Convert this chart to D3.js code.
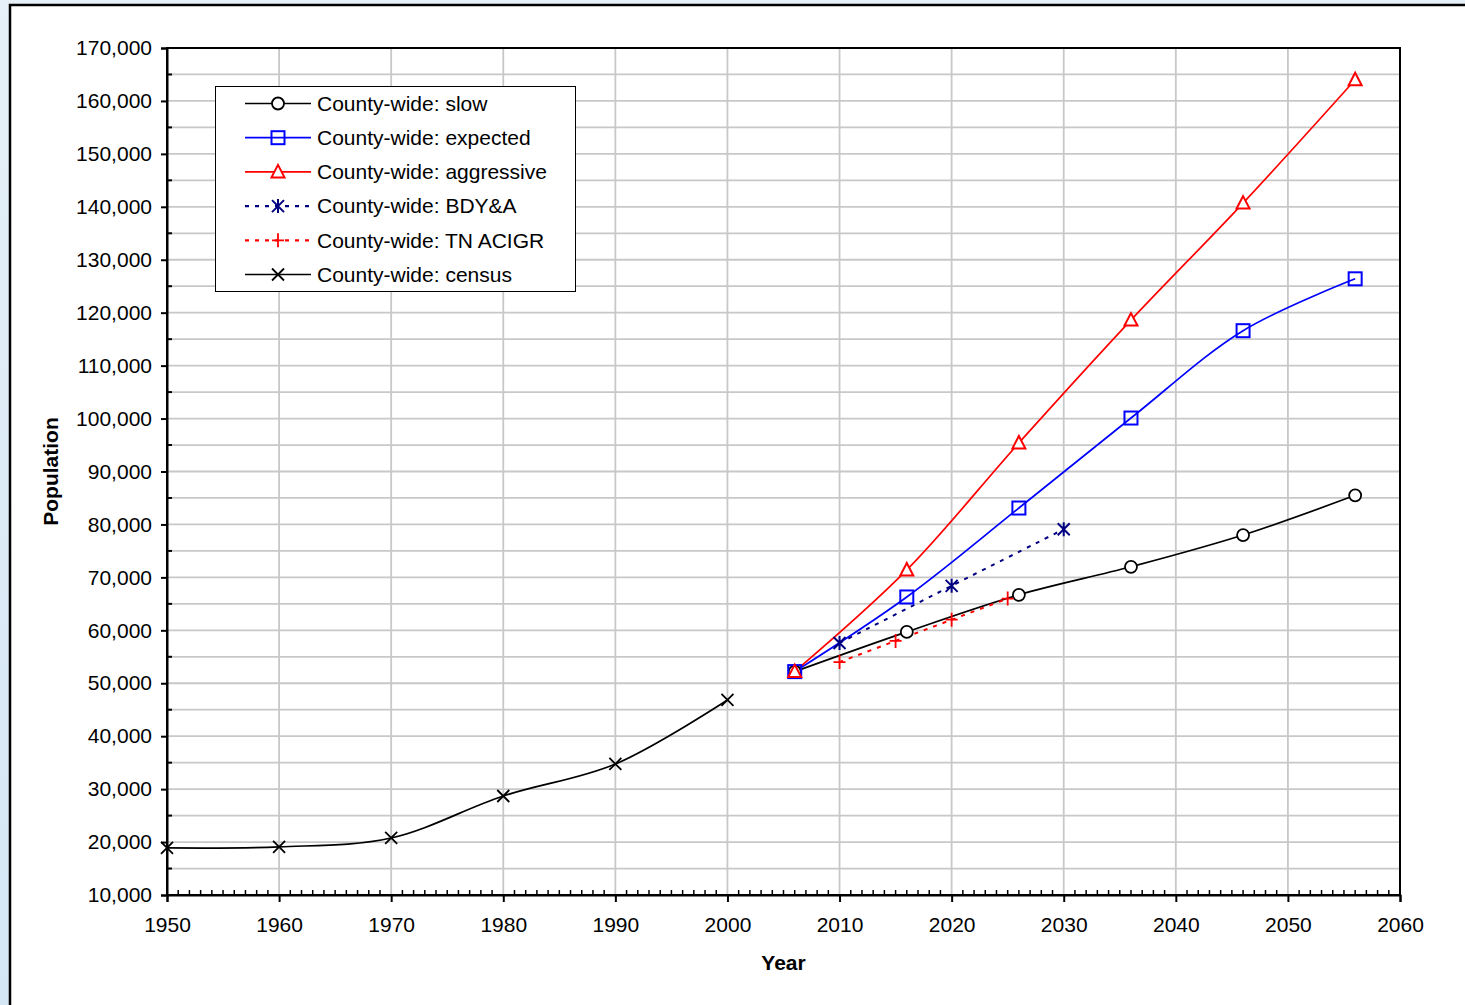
<!DOCTYPE html>
<html>
<head>
<meta charset="utf-8">
<script src="https://cdn.jsdelivr.net/npm/d3@7/dist/d3.min.js"></script>
<style>
  html, body { margin: 0; padding: 0; }
  body { width: 1465px; height: 1005px; overflow: hidden; }
  svg { display: block; }
  text { font-family: "Liberation Sans", Arial, sans-serif; fill: #000; }
</style>
</head>
<body>
<svg id="chart" width="1465" height="1005"></svg>
<script>
// Population series (values by year)
const censusYears = [1950, 1960, 1970, 1980, 1990, 2000];
const censusValues = [18900, 19100, 20770, 28700, 34750, 46840];

const projYears = [2006, 2016, 2026, 2036, 2046, 2056];
const slowValues = [52200, 59700, 66700, 72000, 78000, 85500];
const expectedValues = [52200, 66300, 83100, 100100, 116600, 126400];
const aggressiveValues = [52200, 71400, 95400, 118600, 140700, 164000];

const bdyYears = [2010, 2020, 2030];
const bdyValues = [57600, 68400, 79100];

const tnYears = [2010, 2015, 2020, 2025];
const tnValues = [54000, 58000, 62000, 66000];

const xTickValues = [1950, 1960, 1970, 1980, 1990, 2000, 2010, 2020, 2030, 2040, 2050, 2060];
const yTickValues = [10000, 20000, 30000, 40000, 50000, 60000, 70000, 80000, 90000,
  100000, 110000, 120000, 130000, 140000, 150000, 160000, 170000];

const seriesNames = [
  "County-wide: slow",
  "County-wide: expected",
  "County-wide: aggressive",
  "County-wide: BDY&A",
  "County-wide: TN ACIGR",
  "County-wide: census"
];

const zip = (xs, ys) => xs.map((x, i) => ({ x, y: ys[i] }));

const series = [
  { name: seriesNames[0], data: zip(projYears, slowValues), color: "#000000", dash: null, marker: "circle" },
  { name: seriesNames[1], data: zip(projYears, expectedValues), color: "#0000ff", dash: null, marker: "square" },
  { name: seriesNames[2], data: zip(projYears, aggressiveValues), color: "#ff0000", dash: null, marker: "triangle" },
  { name: seriesNames[3], data: zip(bdyYears, bdyValues), color: "#000080", dash: "4,6", marker: "star" },
  { name: seriesNames[4], data: zip(tnYears, tnValues), color: "#ff0000", dash: "4,6", marker: "plus" },
  { name: seriesNames[5], data: zip(censusYears, censusValues), color: "#000000", dash: null, marker: "cross" }
];

const FONT = 21;
const svg = d3.select("#chart");

// Page background: pale blue, with a white panel framed on its top/left edges
const defs = svg.append("defs");
const bg = defs.append("linearGradient").attr("id", "bg").attr("x1", 0).attr("y1", 0).attr("x2", 0).attr("y2", 1);
bg.append("stop").attr("offset", "0%").attr("stop-color", "#e6f0f8");
bg.append("stop").attr("offset", "100%").attr("stop-color", "#d4e6f4");
svg.append("rect").attr("x", 0).attr("y", 0).attr("width", 1465).attr("height", 1005).attr("fill", "url(#bg)");
svg.append("rect").attr("x", 10).attr("y", 5).attr("width", 1470).attr("height", 1010)
  .attr("fill", "#ffffff").attr("stroke", "#000").attr("stroke-width", 2.5);

const x = d3.scaleLinear().domain([1950, 2060]).range([167, 1400]);
const y = d3.scaleLinear().domain([10000, 170000]).range([895, 48]);

// Gridlines
const grid = svg.append("g");
grid.selectAll("line.h").data(d3.range(15000, 170001, 5000)).join("line")
  .attr("x1", x(1950)).attr("x2", x(2060))
  .attr("y1", d => y(d)).attr("y2", d => y(d))
  .attr("stroke", "#c8c8c8").attr("stroke-width", 1.8);
grid.selectAll("line.v").data(xTickValues.slice(1, -1)).join("line")
  .attr("x1", d => x(d)).attr("x2", d => x(d))
  .attr("y1", y(10000)).attr("y2", y(170000))
  .attr("stroke", "#c8c8c8").attr("stroke-width", 1.8);

// Plot frame
svg.append("rect")
  .attr("x", x(1950)).attr("y", y(170000))
  .attr("width", x(2060) - x(1950)).attr("height", y(10000) - y(170000))
  .attr("fill", "none").attr("stroke", "#000").attr("stroke-width", 2);

// Y axis: major ticks outside, minor ticks inside
const fmt = d3.format(",");
const yAxis = d3.axisLeft(y).tickValues(yTickValues).tickFormat(fmt).tickSize(6).tickPadding(9);
const yg = svg.append("g").attr("transform", `translate(${x(1950)},0)`).call(yAxis);
yg.select(".domain").attr("stroke-width", 2);
yg.selectAll(".tick line").attr("stroke-width", 2);
yg.selectAll(".tick text").attr("font-size", FONT).attr("font-family", "Liberation Sans, Arial, sans-serif");
svg.append("g").selectAll("line").data(d3.range(15000, 170000, 10000)).join("line")
  .attr("x1", x(1950)).attr("x2", x(1950) + 5)
  .attr("y1", d => y(d)).attr("y2", d => y(d))
  .attr("stroke", "#000").attr("stroke-width", 2);

// X axis: decade ticks outside, yearly minor ticks inside
const xAxis = d3.axisBottom(x).tickValues(xTickValues).tickFormat(d3.format("d")).tickSize(7).tickPadding(15);
const xg = svg.append("g").attr("transform", `translate(0,${y(10000)})`).call(xAxis);
xg.select(".domain").attr("stroke-width", 2);
xg.selectAll(".tick line").attr("stroke-width", 2);
xg.selectAll(".tick text").attr("font-size", FONT).attr("font-family", "Liberation Sans, Arial, sans-serif");
svg.append("g").selectAll("line").data(d3.range(1951, 2060).filter(v => v % 10 !== 0)).join("line")
  .attr("x1", d => x(d)).attr("x2", d => x(d))
  .attr("y1", y(10000)).attr("y2", y(10000) - 5)
  .attr("stroke", "#000").attr("stroke-width", 1.5);

// Axis titles
svg.append("text").attr("x", (x(1950) + x(2060)) / 2).attr("y", 970)
  .attr("text-anchor", "middle").attr("font-size", FONT).attr("font-weight", "bold").text("Year");
svg.append("text").attr("transform", `translate(58,${(y(10000) + y(170000)) / 2}) rotate(-90)`)
  .attr("text-anchor", "middle").attr("font-size", FONT).attr("font-weight", "bold").text("Population");

// Marker shapes
function drawMarker(g, type, cx, cy, color) {
  const s = g.append("g").attr("transform", `translate(${cx},${cy})`)
    .attr("fill", "none").attr("stroke", color).attr("stroke-width", 1.8);
  if (type === "circle") {
    s.append("circle").attr("r", 6).attr("fill", "#fff");
  } else if (type === "square") {
    s.append("rect").attr("x", -6.5).attr("y", -6.5).attr("width", 13).attr("height", 13).attr("fill", "none").attr("stroke-width", 2);
  } else if (type === "triangle") {
    s.append("path").attr("d", "M0,-7 L6.5,5.5 L-6.5,5.5 Z").attr("fill", "#fff").attr("stroke-width", 2);
  } else if (type === "star") {
    s.append("path").attr("d", "M-6,-6 L6,6 M-6,6 L6,-6 M0,-7 L0,7").attr("stroke-width", 2);
  } else if (type === "plus") {
    s.append("path").attr("d", "M-6,0 L6,0 M0,-7 L0,7").attr("stroke-width", 1.8);
  } else if (type === "cross") {
    s.append("path").attr("d", "M-6,-6 L6,6 M-6,6 L6,-6").attr("stroke-width", 1.8);
  }
}

const line = d3.line().x(d => x(d.x)).y(d => y(d.y)).curve(d3.curveCatmullRom.alpha(0.5));

const plot = svg.append("g");
series.forEach(s => {
  plot.append("path").datum(s.data).attr("d", line)
    .attr("fill", "none").attr("stroke", s.color).attr("stroke-width", s.dash ? 2 : 1.7)
    .attr("stroke-dasharray", s.dash);
});
series.forEach(s => {
  s.data.forEach(d => drawMarker(plot, s.marker, x(d.x), y(d.y), s.color));
});

// Legend
const lg = svg.append("g");
lg.append("rect").attr("x", 215.5).attr("y", 86.5).attr("width", 360).attr("height", 205)
  .attr("fill", "#fff").attr("stroke", "#000").attr("stroke-width", 1);
series.forEach((s, i) => {
  const ly = 103.5 + i * 34.2;
  lg.append("line").attr("x1", 245).attr("x2", 311).attr("y1", ly).attr("y2", ly)
    .attr("stroke", s.color).attr("stroke-width", s.dash ? 2.2 : 1.7).attr("stroke-dasharray", s.dash);
  drawMarker(lg, s.marker, 278, ly, s.color);
  lg.append("text").attr("x", 317).attr("y", ly).attr("dy", "0.35em")
    .attr("font-size", FONT).text(s.name);
});
</script>
</body>
</html>
